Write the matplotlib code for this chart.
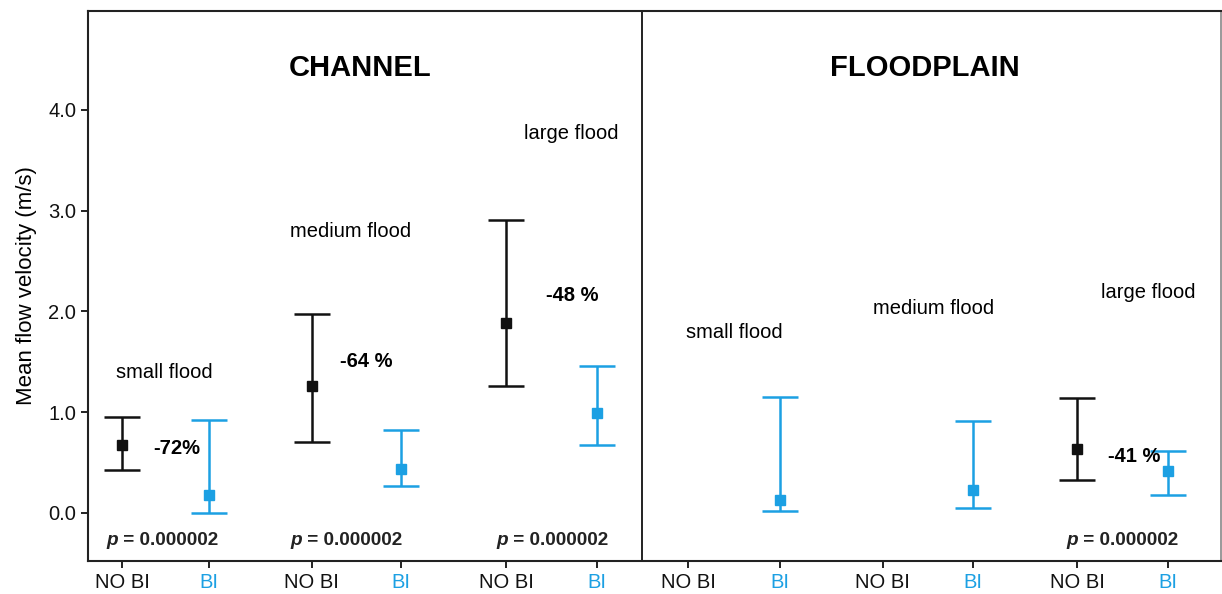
import matplotlib.pyplot as plt

plt.rcParams['font.family'] = ['Liberation Sans', 'DejaVu Sans']

# categories along x (left: channel, right: floodplain)
x_pos = [0.0, 0.98, 2.15, 3.17, 4.36, 5.39, 6.43, 7.47, 8.64, 9.66, 10.85, 11.88]
x_labels = ['NO BI', 'BI'] * 6
groups = ['NO BI', 'BI'] * 6

# means and ranges (m/s); None = no data
means = [0.675, 0.18, 1.26, 0.44, 1.88, 0.99,
         None, 0.13, None, 0.23, 0.635, 0.42]
upper = [0.95, 0.92, 1.975, 0.82, 2.91, 1.46,
         None, 1.15, None, 0.91, 1.14, 0.615]
lower = [0.43, 0.0, 0.70, 0.27, 1.26, 0.675,
         None, 0.02, None, 0.05, 0.33, 0.18]

flood_labels = ['small flood', 'medium flood', 'large flood',
                'small flood', 'medium flood', 'large flood']
flood_label_x = [0.48, 2.59, 5.1, 6.95, 9.22, 11.66]
flood_label_y = [1.39, 2.79, 3.76, 1.79, 2.03, 2.19]

change_labels = ['-72%', '-64 %', '-48 %', '-41 %']
change_x = [0.35, 2.47, 4.81, 11.2]
change_y = [0.635, 1.5, 2.16, 0.556]

p_x = [-0.05, 2.04, 4.38, 10.86]
p_y = -0.268

BLACK = '#111111'
BLUE = '#1CA0E3'

fig = plt.figure(figsize=(12.22, 5.94), dpi=100)
ax = fig.add_axes([0.072, 0.0556, 0.927, 0.926])

for i in range(len(x_pos)):
    if means[i] is None:
        continue
    c = BLACK if groups[i] == 'NO BI' else BLUE
    ax.errorbar(x_pos[i], means[i],
                yerr=[[means[i] - lower[i]], [upper[i] - means[i]]],
                fmt='s', color=c, ecolor=c, elinewidth=1.8, capsize=13,
                capthick=1.8, markersize=6.5)

ax.axvline(5.9, color=BLACK, lw=1.3)

ax.text(2.7, 4.41, 'CHANNEL', ha='center', va='center',
        fontsize=21, fontweight='bold')
ax.text(9.12, 4.41, 'FLOODPLAIN', ha='center', va='center',
        fontsize=21, fontweight='bold')

for lab, lx, ly in zip(flood_labels, flood_label_x, flood_label_y):
    ax.text(lx, ly, lab, ha='center', va='center', fontsize=14.5)

for lab, lx, ly in zip(change_labels, change_x, change_y):
    ax.text(lx, ly, lab, ha='left', va='center', fontsize=14.5,
            fontweight='bold')

for px in p_x:
    ax.text(px, p_y, 'p', ha='right', va='center', fontsize=13.7,
            fontweight='bold', fontstyle='italic', color='#222222')
    ax.text(px, p_y, ' = 0.000002', ha='left', va='center', fontsize=13.7,
            fontweight='bold', color='#222222')

ax.set_xlim(-0.39, 12.48)
ax.set_ylim(-0.476, 4.98)
ax.set_yticks([0, 1, 2, 3, 4])
ax.set_yticklabels(['0.0', '1.0', '2.0', '3.0', '4.0'])
ax.set_xticks(x_pos)
ax.set_xticklabels(x_labels)

ax.tick_params(axis='both', labelsize=14.5, direction='out', length=5,
               width=1.3, colors=BLACK)
for t, g in zip(ax.get_xticklabels(), groups):
    t.set_color(BLACK if g == 'NO BI' else BLUE)

ax.set_ylabel('Mean flow velocity (m/s)', fontsize=16, labelpad=8)

for s in ['left', 'bottom', 'top']:
    ax.spines[s].set_linewidth(1.5)
    ax.spines[s].set_color('#222222')
ax.spines['right'].set_linewidth(1.2)
ax.spines['right'].set_color('#888888')

fig.savefig('out.png', dpi=100)
